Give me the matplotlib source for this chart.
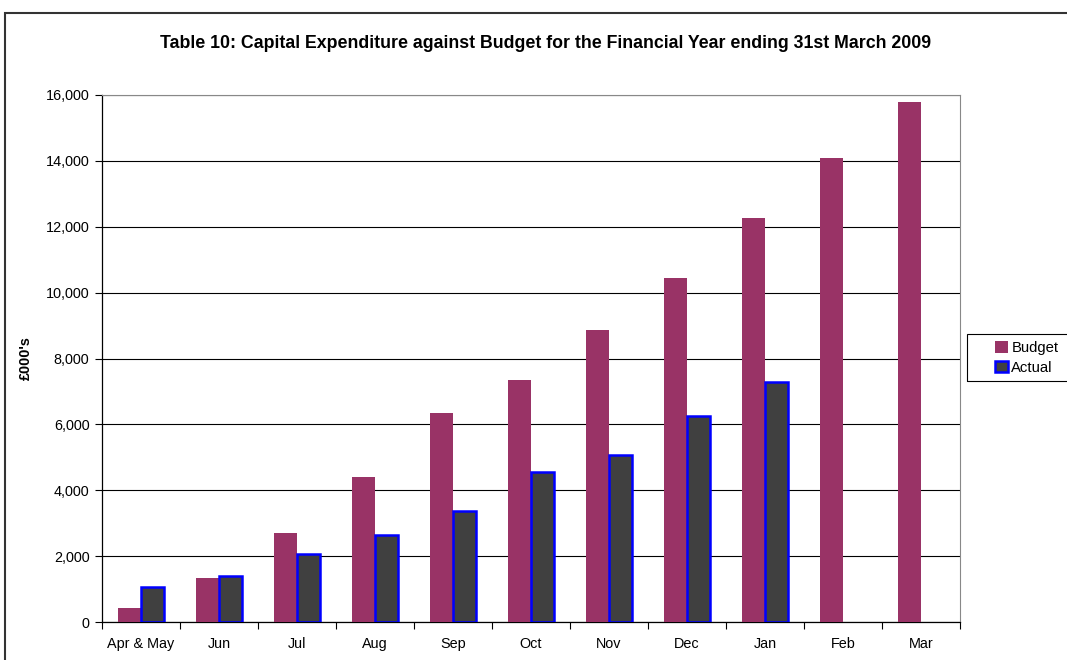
import numpy as np
import matplotlib.pyplot as plt
from matplotlib.patches import Rectangle
from matplotlib.ticker import FuncFormatter

plt.rcParams['font.family'] = ['Liberation Sans', 'DejaVu Sans']

months = ['Apr & May', 'Jun', 'Jul', 'Aug', 'Sep', 'Oct', 'Nov', 'Dec', 'Jan', 'Feb', 'Mar']
budget = [425, 1335, 2700, 4400, 6345, 7350, 8865, 10445, 12265, 14090, 15790]
actual = [1065, 1400, 2065, 2645, 3370, 4555, 5070, 6255, 7290]

W, H = 1067, 660
fig = plt.figure(figsize=(W / 100, H / 100), dpi=100)
ax = fig.add_axes([102 / W, 1 - 622 / H, (960 - 102) / W, (622 - 95) / H])

# outer chart border (cropped on the right and bottom)
fig.patches.append(Rectangle((5 / W, -0.1), 1.2, 1.1 - 13 / H, transform=fig.transFigure,
                             fill=False, edgecolor='#333333', linewidth=1.5))

x = np.arange(len(months))
w = 0.295
ax.bar(x - w / 2, budget, w, color='#993366', label='Budget', zorder=3)
ax.bar(x[:len(actual)] + w / 2, actual, w, color='#404040', edgecolor='#0000ff',
       linewidth=1.8, label='Actual', zorder=3)

ax.set_xlim(-0.5, len(months) - 0.5)
ax.set_ylim(0, 16000)
ax.set_yticks(np.arange(0, 16001, 2000))
ax.yaxis.set_major_formatter(FuncFormatter(lambda v, p: f'{int(v):,}'))
ax.grid(axis='y', color='black', linewidth=0.8, zorder=0)

ax.set_xticks(np.arange(-0.5, len(months), 1))
ax.set_xticklabels([])
ax.set_xticks(x, minor=True)
ax.set_xticklabels(months, minor=True)
ax.tick_params(axis='x', which='minor', length=0, labelsize=10.4, pad=11)
ax.tick_params(axis='x', which='major', length=5, color='black', direction='out')
ax.tick_params(axis='y', length=5, labelsize=10.4, direction='out', pad=4)

for s in ['top', 'right']:
    ax.spines[s].set_color('#888888')
    ax.spines[s].set_linewidth(0.8)
for s in ['left', 'bottom']:
    ax.spines[s].set_color('black')
    ax.spines[s].set_linewidth(0.9)

ax.set_ylabel("£000's", fontsize=10.4, fontweight='bold')
ax.yaxis.set_label_coords((33 - 102) / 858, 0.5)
fig.text(546 / W, 1 - 43 / H,
         'Table 10: Capital Expenditure against Budget for the Financial Year ending 31st March 2009',
         ha='center', va='center', fontsize=12.8, fontweight='bold')

# legend frame runs off the right edge, as in the original
fig.patches.append(Rectangle((967 / W, 1 - 381 / H), 0.2, 47 / H, transform=fig.transFigure,
                             fill=False, edgecolor='black', linewidth=0.8))
leg = fig.legend(loc='center left', bbox_to_anchor=(995 / W, 1 - 358 / H), fontsize=10.7,
                 frameon=False, handlelength=0.85, handleheight=0.85, handletextpad=0.25,
                 borderpad=0, labelspacing=0.35, borderaxespad=0)

fig.savefig('out.png', dpi=100)
